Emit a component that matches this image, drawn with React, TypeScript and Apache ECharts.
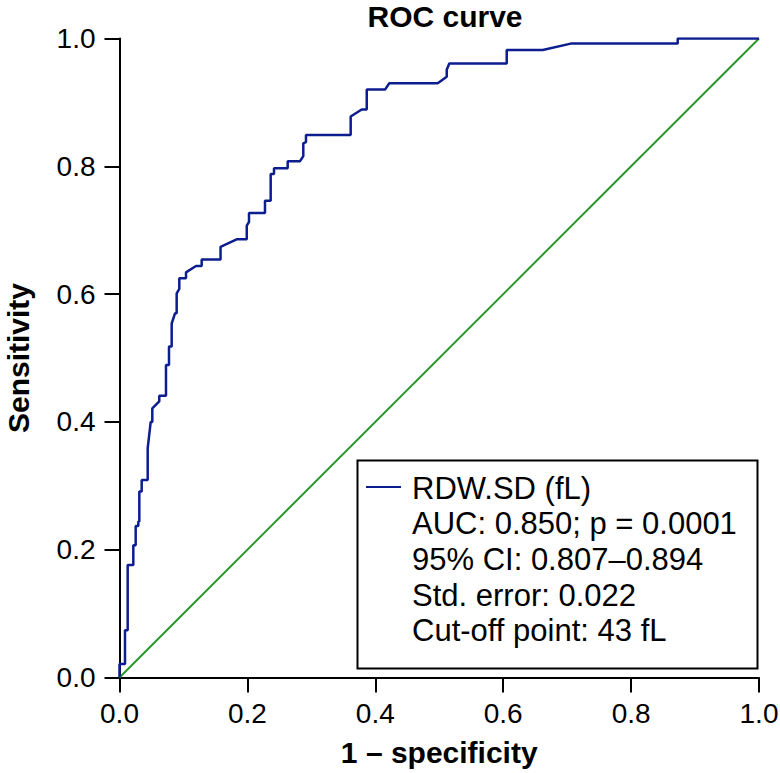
import React, { useEffect, useRef } from "react";
import * as echarts from "echarts";

// ROC curve points (1 - specificity, sensitivity)
const fpr = [
  0, 0, 0.0086, 0.0086, 0.0128, 0.0128, 0.0216, 0.0216, 0.0253, 0.0253, 0.0294, 0.0294,
  0.031, 0.031, 0.0347, 0.0347, 0.0441, 0.0441, 0.0488, 0.0513, 0.0513, 0.0622, 0.0622,
  0.0727, 0.0727, 0.0774, 0.0774, 0.0816, 0.0816, 0.0868, 0.0894, 0.0894, 0.0935, 0.0935,
  0.104, 0.104, 0.1196, 0.1285, 0.1285, 0.158, 0.158, 0.184, 0.199, 0.199, 0.2025, 0.2025,
  0.2275, 0.2275, 0.2364, 0.2364, 0.2416, 0.2416, 0.263, 0.263, 0.2823, 0.2874, 0.2874,
  0.2916, 0.2916, 0.3615, 0.3615, 0.3787, 0.3866, 0.3866, 0.4152, 0.4219, 0.4976, 0.5117,
  0.5117, 0.5157, 0.6055, 0.6055, 0.6618, 0.7056, 0.8729, 0.8729, 1.0,
];
const tpr = [
  0, 0.021, 0.021, 0.074, 0.074, 0.176, 0.176, 0.207, 0.207, 0.237, 0.237, 0.244,
  0.244, 0.291, 0.291, 0.309, 0.309, 0.359, 0.4, 0.4, 0.421, 0.432, 0.441,
  0.441, 0.489, 0.489, 0.518, 0.518, 0.554, 0.57, 0.57, 0.601, 0.608, 0.625,
  0.625, 0.634, 0.644, 0.644, 0.654, 0.654, 0.674, 0.686, 0.686, 0.707, 0.713, 0.727,
  0.727, 0.746, 0.746, 0.788, 0.788, 0.797, 0.797, 0.808, 0.808, 0.816, 0.836,
  0.838, 0.849, 0.849, 0.878, 0.889, 0.889, 0.92, 0.92, 0.93, 0.93, 0.94,
  0.951, 0.961, 0.961, 0.982, 0.982, 0.992, 0.992, 1.0, 1.0,
];
const refX = [0, 1];
const refY = [0, 1];

const seriesName = "RDW.SD (fL)";
const statLines = [
  "AUC: 0.850; p = 0.0001",
  "95% CI: 0.807–0.894",
  "Std. error: 0.022",
  "Cut-off point: 43 fL",
];

const FONT = "'Liberation Sans', Arial, Helvetica, sans-serif";
const BLUE = "#0c1d8f";
const GREEN = "#2a962a";

export default function App() {
  const ref = useRef<HTMLDivElement>(null);
  useEffect(() => {
    document.body.style.margin = "0";
    const chart = echarts.init(ref.current!, null, { renderer: "svg" });
    const legendTexts = [seriesName, ...statLines].map((t, i) => ({
      type: "text",
      x: 412,
      y: 488 + i * 35.7,
      style: {
        text: t,
        font: `31px ${FONT}`,
        fill: "#000",
        textVerticalAlign: "middle",
        verticalAlign: "middle",
      },
      z: 10,
    }));
    chart.setOption({
      animation: false,
      title: {
        text: "ROC curve",
        left: 440,
        top: -4,
        textAlign: "center",
        textStyle: { fontFamily: FONT, fontWeight: "bold", fontSize: 30, color: "#000" },
      },
      grid: {
        left: 119.5,
        right: 21,
        top: 38.5,
        bottom: 95.5,
        containLabel: false,
        outerBoundsMode: "none",
      },
      xAxis: {
        type: "value",
        min: 0,
        max: 1,
        interval: 0.2,
        name: "1 – specificity",
        nameLocation: "middle",
        nameGap: 60,
        nameTextStyle: { fontFamily: FONT, fontWeight: "bold", fontSize: 30, color: "#000" },
        axisLine: { show: true, onZero: false, lineStyle: { color: "#000", width: 2 } },
        axisTick: { show: true, length: 15, lineStyle: { color: "#000", width: 2 } },
        axisLabel: {
          margin: 22,
          fontFamily: FONT,
          fontSize: 28,
          color: "#000",
          formatter: (v: number) => v.toFixed(1),
        },
        splitLine: { show: false },
      },
      yAxis: {
        type: "value",
        min: 0,
        max: 1,
        interval: 0.2,
        name: "Sensitivity",
        nameLocation: "middle",
        nameGap: 86,
        nameTextStyle: { fontFamily: FONT, fontWeight: "bold", fontSize: 30, color: "#000" },
        axisLine: { show: true, onZero: false, lineStyle: { color: "#000", width: 2 } },
        axisTick: { show: true, length: 15, lineStyle: { color: "#000", width: 2 } },
        axisLabel: {
          margin: 24,
          fontFamily: FONT,
          fontSize: 28,
          color: "#000",
          formatter: (v: number) => v.toFixed(1),
        },
        splitLine: { show: false },
      },
      series: [
        {
          name: "Reference",
          type: "line",
          data: refX.map((x, i) => [x, refY[i]]),
          symbol: "none",
          lineStyle: { color: GREEN, width: 2 },
          z: 2,
        },
        {
          name: seriesName,
          type: "line",
          data: fpr.map((x, i) => [x, tpr[i]]),
          symbol: "none",
          lineStyle: { color: BLUE, width: 2.5 },
          z: 3,
        },
      ],
      graphic: [
        {
          type: "rect",
          shape: { x: 357.5, y: 460.5, width: 400, height: 208 },
          style: { fill: "#fff", stroke: "#000", lineWidth: 2 },
          z: 5,
        },
        {
          type: "line",
          shape: { x1: 366, y1: 487, x2: 401, y2: 487 },
          style: { stroke: BLUE, lineWidth: 2 },
          z: 10,
        },
        ...legendTexts,
      ],
    });
    return () => chart.dispose();
  }, []);
  return <div ref={ref} style={{ width: 780, height: 773 }} />;
}
